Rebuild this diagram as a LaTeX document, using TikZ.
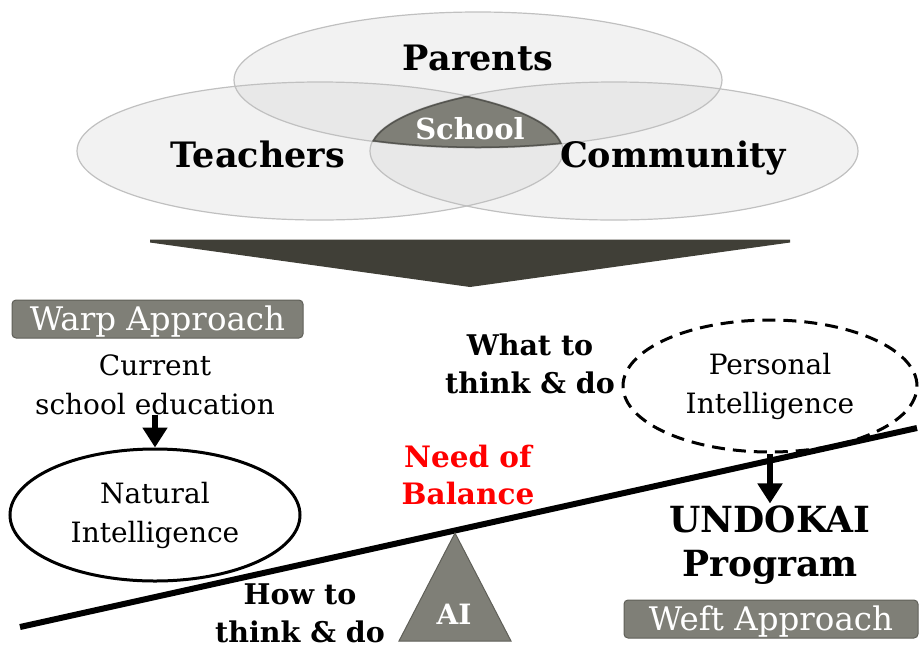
\documentclass[tikz,border=0pt]{standalone}
\usepackage{fontspec}
\setmainfont{DejaVu Serif}
\usetikzlibrary{arrows.meta,shapes.geometric}
\definecolor{boxgray}{RGB}{127,127,119}
\definecolor{boxedge}{RGB}{95,95,88}
\definecolor{ringedge}{RGB}{192,192,192}
\definecolor{ringfill}{RGB}{198,198,198}
\definecolor{arrowdark}{RGB}{64,63,55}
\definecolor{schooledge}{RGB}{85,85,80}
\begin{document}
\begin{tikzpicture}[x=1pt,y=-1pt,
  venntxt/.style={font=\fontsize{35}{38}\selectfont\bfseries, inner sep=0pt, anchor=base},
  apprbox/.style={draw=boxedge, line width=1pt, fill=boxgray, rounded corners=4pt,
     text=white, font=\fontsize{32.5}{34}\selectfont, minimum height=38pt, inner sep=0pt,
     text height=27pt, text depth=3.5pt},
  plaintxt/.style={align=center, font=\fontsize{28}{39}\selectfont, inner sep=0pt},
  boldtxt/.style={align=center, font=\fontsize{28.5}{38}\selectfont\bfseries, inner sep=0pt},
  fatarrow/.style={line width=6pt, -{Triangle[width=24pt,length=20pt]}},
  intell/.style={ellipse, line width=3pt, inner sep=0pt, align=center,
     font=\fontsize{28}{39}\selectfont}
]
\useasboundingbox (0,0) rectangle (924,649);

% Venn diagram
\fill[ringfill, fill opacity=0.23] (478,80) ellipse [x radius=244pt, y radius=68pt];
\fill[ringfill, fill opacity=0.23] (320,151) ellipse [x radius=243pt, y radius=69pt];
\fill[ringfill, fill opacity=0.23] (614,151) ellipse [x radius=244pt, y radius=69pt];
\draw[ringedge, line width=1.2pt] (478,80) ellipse [x radius=244pt, y radius=68pt];
\draw[ringedge, line width=1.2pt] (320,151) ellipse [x radius=243pt, y radius=69pt];
\draw[ringedge, line width=1.2pt] (614,151) ellipse [x radius=244pt, y radius=69pt];
\begin{scope}
  \clip (478,80) ellipse [x radius=244pt, y radius=68pt];
  \clip (320,151) ellipse [x radius=243pt, y radius=69pt];
  \clip (614,151) ellipse [x radius=244pt, y radius=69pt];
  \fill[boxgray] (300,60) rectangle (650,200);
  \draw[schooledge, line width=3pt] (478,80) ellipse [x radius=244pt, y radius=68pt];
  \draw[schooledge, line width=3pt] (320,151) ellipse [x radius=243pt, y radius=69pt];
  \draw[schooledge, line width=3pt] (614,151) ellipse [x radius=244pt, y radius=69pt];
\end{scope}
\node[venntxt] (parents) at (478,70) {Parents};
\node[venntxt] (teachers) at (258,167) {Teachers};
\node[venntxt] (community) at (673,167) {Community};
\node[venntxt, font=\fontsize{29}{30}\selectfont\bfseries, text=white] (school) at (470,139) {School};

% big arrow
\fill[arrowdark] (150,239.5) -- (790,239.5) -- (790,242.5) -- (470,287) -- (150,242.5) -- cycle;

% left side
\node[apprbox, minimum width=291pt] (warp) at (157.5,319) {Warp Approach};
\node[plaintxt] (current) at (155,385) {Current\\school education};
\node[intell, draw, minimum width=290pt, minimum height=132pt] (natural) at (155,515) {Natural\\Intelligence};
\draw[fatarrow] (current.south) -- (natural.north);

% balance
\coordinate (beamL) at (20,627);
\coordinate (beamR) at (917,428);
\draw[line width=6pt] (beamL) -- (beamR);
\coordinate (apex) at (455,533);
\coordinate (baseL) at (399,641);
\coordinate (baseR) at (511,641);
\filldraw[fill=boxgray, draw=boxedge, line width=1pt] (apex) -- (baseR) -- (baseL) -- cycle;
\node[venntxt, font=\fontsize{28}{30}\selectfont\bfseries, text=white] (ai) at (454,624) {AI};

\node[boldtxt] (howto) at (300,613) {How to\\think \& do};
\node[boldtxt, font=\fontsize{29.5}{37}\selectfont\bfseries, text=red] (balance) at (468,475) {Need of\\Balance};
\node[boldtxt] (whatto) at (530,364) {What to\\think \& do};

% right side
\node[intell, draw, dash pattern=on 13pt off 8pt, minimum width=294pt, minimum height=132pt] (personal) at (770,386) {Personal\\Intelligence};
\node[boldtxt, font=\fontsize{36}{44}\selectfont\bfseries, inner sep=2pt] (undokai) at (770,545) {UNDOKAI\\Program};
\draw[fatarrow] (personal.south) -- (undokai.north);
\node[apprbox, minimum width=294pt] (weft) at (771,619) {Weft Approach};
\end{tikzpicture}
\end{document}
